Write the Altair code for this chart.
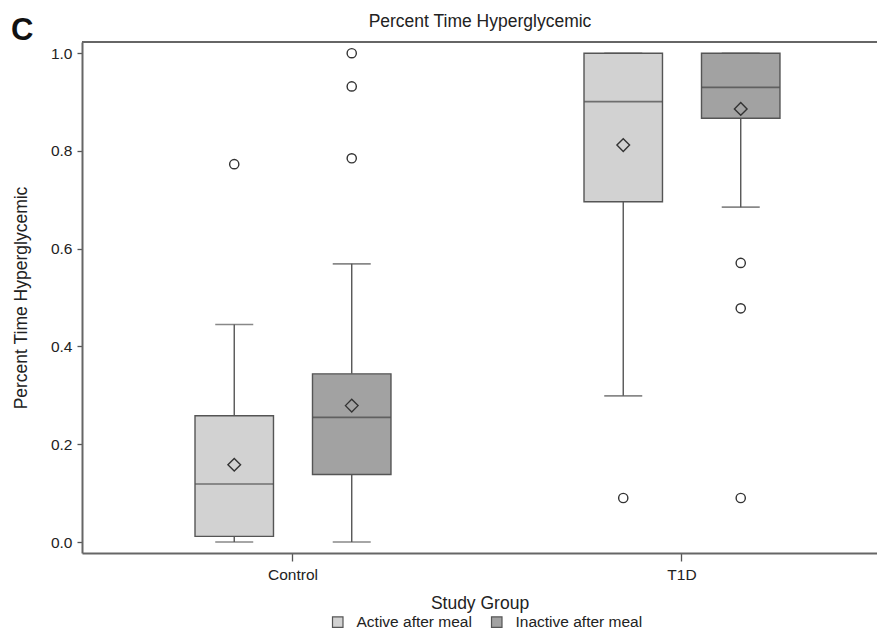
import altair as alt
import pandas as pd

groups = ["Control", "Control", "T1D", "T1D"]
meals = ["Active after meal", "Inactive after meal", "Active after meal", "Inactive after meal"]
whisker_low = [0.0, 0.0, 0.299, 0.685]
q1 = [0.0115, 0.138, 0.696, 0.867]
median = [0.1187, 0.255, 0.901, 0.930]
q3 = [0.2584, 0.344, 1.0, 1.0]
whisker_high = [0.445, 0.569, 1.0, 1.0]
mean = [0.158, 0.279, 0.812, 0.886]

out_group = ["Control", "Control", "Control", "Control", "T1D", "T1D", "T1D", "T1D"]
out_meal = ["Active after meal", "Inactive after meal", "Inactive after meal", "Inactive after meal",
            "Active after meal", "Inactive after meal", "Inactive after meal", "Inactive after meal"]
out_value = [0.773, 1.0, 0.932, 0.785, 0.090, 0.571, 0.478, 0.090]

group_order = ["Control", "T1D"]
meal_order = ["Active after meal", "Inactive after meal"]
fills = ["#d2d2d2", "#a2a2a2"]
chart_title = ["Percent Time Hyperglycemic"]
panel_label = ["C"]

FONT = "Liberation Sans"
W, H = 795, 511

stats = pd.DataFrame({"group": groups, "meal": meals, "low": whisker_low, "q1": q1,
                      "median": median, "q3": q3, "high": whisker_high, "mean": mean})
outliers = pd.DataFrame({"group": out_group, "meal": out_meal, "value": out_value})

x_enc = alt.X("group:N", sort=group_order,
              scale=alt.Scale(domain=group_order, paddingInner=0, paddingOuter=0.02185, align=0.97),
              axis=alt.Axis(title="Study Group", labelAngle=0, tickSize=8, labelPadding=6,
                            titlePadding=12))
xo_enc = alt.XOffset("meal:N", sort=meal_order,
                     scale=alt.Scale(domain=meal_order, paddingInner=0.332, paddingOuter=0.8215))
y_scale = alt.Scale(domain=[-0.0225, 1.0229], nice=False, zero=False)
y_axis = alt.Axis(title="Percent Time Hyperglycemic", values=[0, 0.2, 0.4, 0.6, 0.8, 1.0],
                  format=".1f", tickSize=5, labelPadding=5, titlePadding=20)

base = alt.Chart(stats)

lower_whisker = base.mark_rule(color="#555555", strokeWidth=1.4).encode(
    x=x_enc, xOffset=xo_enc,
    y=alt.Y("low:Q", scale=y_scale, axis=y_axis), y2="q1:Q")
upper_whisker = base.mark_rule(color="#555555", strokeWidth=1.4).encode(
    x=x_enc, xOffset=xo_enc, y=alt.Y("q3:Q", scale=y_scale, axis=y_axis), y2="high:Q")
box = base.mark_bar(stroke="#555555", strokeWidth=1.4).encode(
    x=x_enc, xOffset=xo_enc,
    y=alt.Y("q1:Q", scale=y_scale, axis=y_axis), y2="q3:Q",
    fill=alt.Fill("meal:N", sort=meal_order,
                  scale=alt.Scale(domain=meal_order, range=fills),
                  legend=alt.Legend(title=None, orient="none", direction="horizontal",
                                    legendX=248, legendY=572, symbolType="square",
                                    symbolSize=110, symbolStrokeColor="#555555",
                                    symbolStrokeWidth=1.2, labelFontSize=15.5,
                                    labelFont=FONT, labelColor="#222222",
                                    labelOffset=11, columnPadding=17, padding=0)))
median_tick = base.mark_tick(color="#444444", thickness=1.6, size=78).encode(
    x=x_enc, xOffset=xo_enc, y=alt.Y("median:Q", scale=y_scale, axis=y_axis))
low_cap = base.mark_tick(color="#555555", thickness=1.6, size=38).encode(
    x=x_enc, xOffset=xo_enc, y=alt.Y("low:Q", scale=y_scale, axis=y_axis))
high_cap = base.mark_tick(color="#555555", thickness=1.6, size=38).encode(
    x=x_enc, xOffset=xo_enc, y=alt.Y("high:Q", scale=y_scale, axis=y_axis))
mean_pt = base.mark_point(shape="diamond", size=160, filled=False, color="#333333",
                          strokeWidth=1.4, opacity=1).encode(
    x=x_enc, xOffset=xo_enc, y=alt.Y("mean:Q", scale=y_scale, axis=y_axis))
out_pts = alt.Chart(outliers).mark_point(shape="circle", size=85, filled=False,
                                          color="#333333", strokeWidth=1.4, opacity=1).encode(
    x=x_enc, xOffset=xo_enc, y=alt.Y("value:Q", scale=y_scale, axis=y_axis))

top_line = alt.Chart(pd.DataFrame({"k": [0]})).mark_rule(color="#666666", strokeWidth=2).encode(
    x=alt.value(0), x2=alt.value(W), y=alt.value(0))
title_text = alt.Chart(pd.DataFrame({"t": chart_title})).mark_text(
    font=FONT, fontSize=17.5, align="center", baseline="alphabetic",
    color="#222222").encode(x=alt.value(398), y=alt.value(-15), text="t:N")
panel = alt.Chart(pd.DataFrame({"label": panel_label})).mark_text(
    font=FONT, fontSize=31, fontWeight="bold", align="left", baseline="alphabetic",
    color="#111111").encode(x=alt.value(-71), y=alt.value(-2), text="label:N")

chart = alt.layer(lower_whisker, upper_whisker, box, median_tick, low_cap, high_cap,
                  mean_pt, out_pts, top_line, title_text, panel).properties(
    width=W, height=H,
    autosize=alt.AutoSizeParams(type="none"),
    padding={"left": 74, "top": 34, "right": 0, "bottom": 77},
).configure_view(stroke=None).configure_axis(
    labelFont=FONT, titleFont=FONT, labelFontSize=15.5, titleFontSize=17.5,
    titleFontWeight="normal", labelColor="#222222", titleColor="#222222",
    domainColor="#666666", domainWidth=2, tickColor="#555555", tickWidth=1.3, grid=False)

chart.save("out.html", embed_options={"renderer": "svg", "actions": False})
